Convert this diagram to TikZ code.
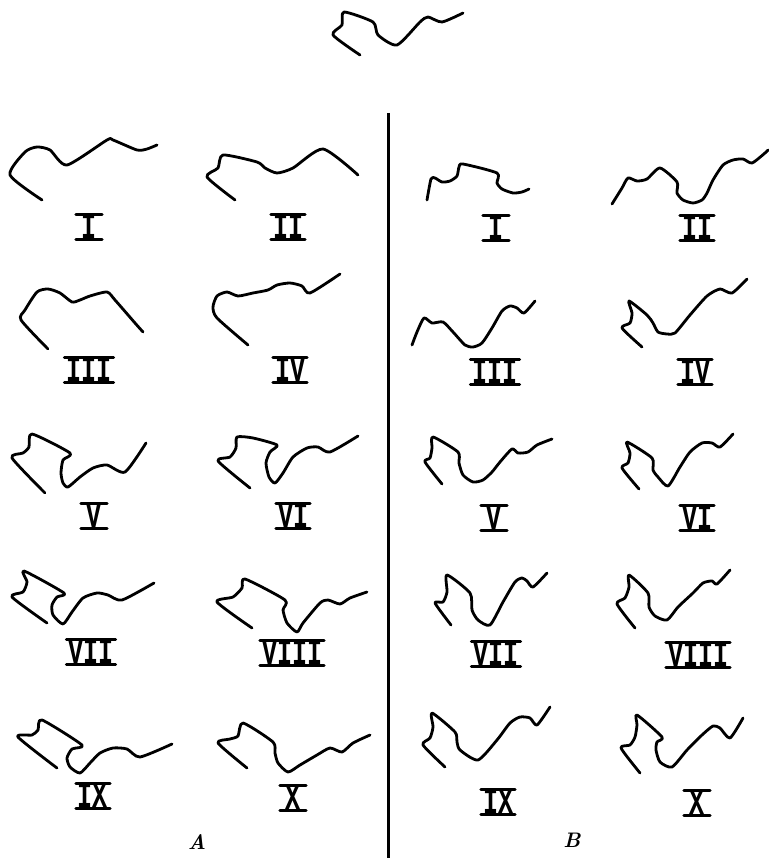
\documentclass[tikz,border=0pt]{standalone}
\usepackage{fontspec}
\newfontfamily\typeroman{Liberation Mono}
\begin{document}
\begin{tikzpicture}[x=1pt,y=-1pt,
  curve/.style={line width=2.8pt, line cap=round, line join=round},
  numlab/.style={font=\fontsize{25}{25}\selectfont\typeroman\bfseries, inner xsep=2pt, inner ysep=0pt, text depth=0pt, minimum width=26pt},
  numbar/.style={line width=3pt, line cap=round},
  grp/.style={font=\fontsize{21}{21}\selectfont\itshape\bfseries, inner sep=0pt}]
\useasboundingbox[fill=white] (0,0) rectangle (768,858);
\newcommand{\squig}[1]{\draw[curve] plot[smooth, tension=0.4] coordinates {#1};}
\newcommand{\numlab}[4]{\node[numlab] (#1) at (#2,#3) {\scalebox{1}[1.45]{#4}};
  \draw[numbar] (#1.north west) -- (#1.north east);
  \draw[numbar] (#1.south west) -- (#1.south east);}
% model
\squig{(360,55) (333,35) (342,25) (344,12) (373,22) (378,35) (397,45) (420,22) (428,17) (442,22) (463,13)}
% divider
\draw[line width=3pt] (388,113) -- (388,858);
% ---------- A ----------
\squig{(42,200) (10,175) (25,152) (37,147) (50,150) (67,165) (107,140) (113,140) (137,150) (147,149) (157,145)}
\squig{(235,200) (207,177) (218,168) (223,155) (257,162) (265,168) (277,173) (293,168) (323,149) (358,175)}
\squig{(48,349) (21,320) (25,310) (37,292) (48,289) (60,293) (72,302) (80,300) (90,296) (107,292) (115,300) (135,323) (143,332)}
\squig{(248,345) (217,318) (213,307) (217,296) (227,292) (238,296) (253,293) (268,290) (277,285) (290,283) (302,286) (310,293) (340,274)}
\squig{(45,493) (12,458) (23,453) (29,447) (32,434) (70,453) (63,460) (61,473) (63,483) (68,487) (80,477) (93,468) (107,465) (125,472) (146,443)}
\squig{(250,488) (218,461) (230,457) (236,448) (237,437) (253,438) (277,445) (270,452) (266,463) (269,477) (275,483) (283,473) (293,457) (307,448) (318,447) (330,452) (358,436)}
\squig{(47,623) (12,597) (23,592) (27,582) (24,571) (64,593) (57,597) (52,605) (53,615) (63,624) (72,612) (83,598) (97,593) (108,595) (122,600) (154,583)}
\squig{(252,628) (217,602) (233,597) (242,588) (245,579) (285,600) (283,610) (287,623) (297,632) (303,623) (320,603) (328,600) (340,604) (350,598) (367,592)}
\squig{(57,768) (18,737) (32,735) (38,730) (42,720) (82,745) (72,749) (67,758) (70,767) (80,773) (90,763) (100,753) (113,748) (127,749) (140,757) (172,744)}
\squig{(247,768) (218,743) (230,739) (238,736) (243,723) (273,742) (275,753) (278,763) (288,772) (300,765) (317,755) (330,748) (342,752) (353,743) (370,735)}
\numlab{a1}{89}{227}{I}
\numlab{a2}{288}{227}{II}
\numlab{a3}{89}{370}{III}
\numlab{a4}{290}{370}{IV}
\numlab{a5}{94}{516}{V}
\numlab{a6}{293}{516}{VI}
\numlab{a7}{91}{652}{VII}
\numlab{a8}{292}{653}{VIII}
\numlab{a9}{93}{796}{IX}
\numlab{a10}{293}{798}{X}
\node[grp] (ga) at (197,842) {A};
% ---------- B ----------
\squig{(427,200) (431,179) (435,178) (442,182) (450,181) (457,176) (459,167) (463,164) (497,173) (497,183) (502,189) (513,193) (522,192) (529,189)}
\squig{(612,204) (622,188) (628,178) (637,181) (647,179) (660,168) (677,182) (677,193) (683,200) (693,203) (702,200) (707,193) (713,180) (723,165) (733,160) (743,159) (752,163) (765,153) (768,150)}
\squig{(412,345) (417,332) (424,318) (432,323) (443,322) (453,332) (465,345) (473,347) (482,343) (492,328) (502,311) (510,306) (517,308) (524,313) (535,301)}
\squig{(642,347) (622,328) (630,323) (632,313) (629,301) (647,315) (653,323) (658,332) (667,334) (675,333) (690,315) (707,296) (720,289) (732,293) (747,279)}
\squig{(442,484) (425,462) (430,458) (432,448) (433,437) (458,452) (459,463) (463,475) (473,482) (483,480) (492,472) (500,462) (512,449) (518,453) (528,452) (537,445) (552,439)}
\squig{(639,489) (622,468) (628,463) (630,453) (627,442) (652,458) (653,470) (658,477) (668,486) (680,467) (690,452) (702,443) (712,443) (720,447) (733,434)}
\squig{(451,625) (435,603) (443,602) (447,592) (447,575) (470,593) (472,610) (478,620) (490,625) (503,602) (515,582) (522,578) (527,581) (533,587) (547,573)}
\squig{(635,628) (617,604) (625,598) (629,587) (629,575) (648,593) (649,607) (655,616) (667,620) (678,607) (693,593) (703,583) (712,581) (717,584) (730,570)}
\squig{(445,767) (423,745) (430,738) (433,727) (432,713) (455,732) (457,742) (460,750) (478,760) (497,740) (510,723) (520,717) (530,718) (537,725) (550,707)}
\squig{(640,773) (621,748) (630,745) (635,737) (637,725) (637,715) (662,737) (657,742) (656,750) (660,762) (672,767) (687,750) (702,735) (713,726) (720,728) (730,738) (743,718)}
\numlab{b1}{496}{228}{I}
\numlab{b2}{697}{228}{II}
\numlab{b3}{495}{372}{III}
\numlab{b4}{695}{372}{IV}
\numlab{b5}{494}{518}{V}
\numlab{b6}{697}{518}{VI}
\numlab{b7}{496}{654}{VII}
\numlab{b8}{698}{655}{VIII}
\numlab{b9}{498}{802}{IX}
\numlab{b10}{697}{803}{X}
\node[grp] (gb) at (572,840) {B};
\end{tikzpicture}
\end{document}
